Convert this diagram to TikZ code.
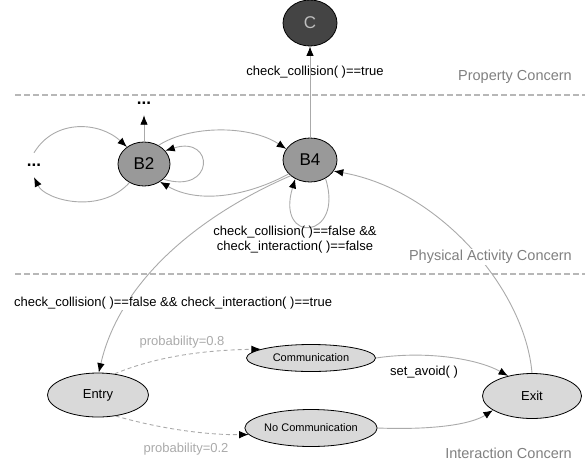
\documentclass[tikz,border=0pt]{standalone}
\usepackage{fontspec}
\setmainfont{Liberation Sans}
\usetikzlibrary{shapes.geometric,arrows.meta}
\definecolor{edgegray}{HTML}{AAAAAA}
\definecolor{concerngray}{HTML}{808080}
\definecolor{probgray}{HTML}{AAAAAA}
\definecolor{bfill}{HTML}{999999}
\definecolor{cfill}{HTML}{444444}
\definecolor{ifill}{HTML}{D9D9D9}
\tikzset{
  stnode/.style={ellipse, draw=black, line width=0.8pt, inner sep=0pt},
  bigstate/.style={stnode, fill=bfill, font=\fontsize{17}{19}\selectfont},
  smallstate/.style={stnode, fill=ifill, font=\fontsize{13}{15}\selectfont},
  edge/.style={draw=edgegray, line width=0.9pt, -{Latex[length=9.5pt,width=7.5pt,color=black]}},
  dedge/.style={edge, dash pattern=on 4pt off 3pt},
  lbl/.style={font=\fontsize{13}{15}\selectfont, inner sep=1pt},
  concern/.style={font=\fontsize{14.5}{16}\selectfont, text=concerngray, anchor=east, inner sep=1pt},
  prob/.style={lbl, text=probgray},
  sep/.style={draw=edgegray!85, line width=1.2pt, dash pattern=on 6pt off 3pt},
  dots/.style={font=\fontsize{17}{19}\selectfont\bfseries, minimum height=24pt, inner sep=0pt}
}
\begin{document}
\begin{tikzpicture}[x=1pt,y=-1pt]
\useasboundingbox (0,0) rectangle (585,463);
% separators
\draw[sep] (15,95) -- (585,95);
\draw[sep] (15,274) -- (585,274);
% nodes
\node[stnode, fill=cfill, text=black!25, font=\fontsize{17}{19}\selectfont, minimum width=54pt, minimum height=46pt] (C) at (310,23) {C};
\node[bigstate, minimum width=52pt, minimum height=44pt] (B2) at (144,164) {B2};
\node[bigstate, minimum width=54pt, minimum height=44pt] (B4) at (310,160) {B4};
\node[dots] (dtop) at (144,103) {...};
\node[dots] (dleft) at (34,165) {...};
\node[smallstate, minimum width=101pt, minimum height=44pt] (Entry) at (98,395) {Entry};
\node[smallstate, minimum width=99pt, minimum height=45pt] (Exit) at (532,396) {Exit};
\node[stnode, fill=ifill, font=\fontsize{11}{13}\selectfont, minimum width=129pt, minimum height=27pt] (Comm) at (311,358) {Communication};
\node[stnode, fill=ifill, font=\fontsize{11}{13}\selectfont, minimum width=129pt, minimum height=37pt] (NoComm) at (311,428) {No Communication};
% labels
\node[concern] (pc) at (573,77) {Property Concern};
\node[lbl] (lcol) at (315,72) {check\_collision( )==true};
% edges (physical)
\draw[edge] (B4.north) -- (C.south);
\draw[edge] (B2.north) -- (dtop.south);
\draw[edge] (dleft.north) .. controls (55,118) and (100,122) .. (B2.135);
\draw[edge] (B2.232) .. controls (100,215) and (45,200) .. (dleft.south);
\draw[edge] (B2.52) .. controls (190,125) and (250,125) .. (B4.155);
\draw[edge] (B2.322) .. controls (215,195) and (215,135) .. (B2.32);
\draw[edge] (B4.213) .. controls (250,195) and (200,205) .. (B2.312);
\draw[edge] (B4.310) .. controls (345,240) and (275,245) .. (B4.232);
\draw[edge] (Exit.north) .. controls (525,290) and (440,190) .. (B4.-25);
\node[concern, fill=white] (pac) at (573,257) {Physical Activity Concern};
\node[lbl, align=center] (lloop) at (295,240) {check\_collision( )==false \&\&\\check\_interaction( )==false};
\draw[edge] (B4.219) .. controls (200,215) and (120,280) .. (Entry.88);
\node[lbl, fill=white, anchor=west] (lint) at (13,303) {check\_collision( )==false \&\& check\_interaction( )==true};
% interaction
\draw[dedge] (Entry.52) .. controls (160,355) and (210,350) .. (Comm.170);
\draw[dedge] (Entry.-50) .. controls (165,430) and (210,435) .. (NoComm.186);
\draw[edge] (Comm.east) .. controls (430,350) and (480,360) .. (Exit.140);
\draw[edge] (NoComm.east) .. controls (430,430) and (470,425) .. (Exit.200);
\node[prob] (p8) at (182,342) {probability=0.8};
\node[prob] (p2) at (186,449) {probability=0.2};
\node[lbl] (sa) at (424,372) {set\_avoid( )};
\node[concern] (ic) at (573,453) {Interaction Concern};
\end{tikzpicture}
\end{document}
